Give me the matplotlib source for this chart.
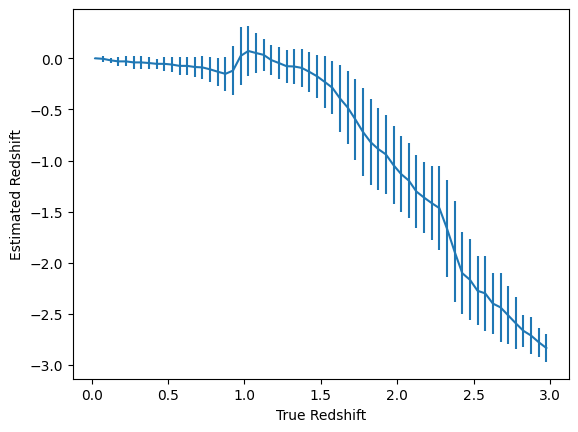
#!/usr/bin/python3
# -*- coding: utf-8 -*-

import matplotlib
matplotlib.use('Agg')
import matplotlib.pyplot as plt

# bin centres of true redshift
z_true = [0.025, 0.075, 0.125, 0.175, 0.225, 0.275, 0.325, 0.375, 0.425, 0.475,
          0.525, 0.575, 0.625, 0.675, 0.725, 0.775, 0.825, 0.875, 0.925, 0.975,
          1.025, 1.075, 1.125, 1.175, 1.225, 1.275, 1.325, 1.375, 1.425, 1.475,
          1.525, 1.575, 1.625, 1.675, 1.725, 1.775, 1.825, 1.875, 1.925, 1.975,
          2.025, 2.075, 2.125, 2.175, 2.225, 2.275, 2.325, 2.375, 2.425, 2.475,
          2.525, 2.575, 2.625, 2.675, 2.725, 2.775, 2.825, 2.875, 2.925, 2.975]

# mean estimate in each bin
z_est = [0.0, -0.005, -0.02, -0.03, -0.03, -0.04, -0.04, -0.046, -0.054, -0.054,
         -0.061, -0.074, -0.074, -0.085, -0.089, -0.108, -0.131, -0.152, -0.12, 0.023,
         0.072, 0.052, 0.034, -0.017, -0.046, -0.077, -0.08, -0.094, -0.133, -0.176,
         -0.231, -0.288, -0.393, -0.481, -0.597, -0.72, -0.82, -0.888, -0.94, -1.045,
         -1.133, -1.196, -1.304, -1.363, -1.417, -1.466, -1.667, -1.893, -2.103, -2.167,
         -2.275, -2.3, -2.40, -2.437, -2.515, -2.593, -2.667, -2.713, -2.778, -2.835]

# spread in each bin
z_err = [0.005, 0.03, 0.023, 0.042, 0.05, 0.062, 0.062, 0.055, 0.047, 0.067,
         0.074, 0.087, 0.087, 0.098, 0.114, 0.12, 0.137, 0.165, 0.24, 0.284,
         0.245, 0.196, 0.155, 0.147, 0.157, 0.162, 0.173, 0.185, 0.195, 0.21,
         0.254, 0.26, 0.327, 0.356, 0.394, 0.43, 0.42, 0.40, 0.386, 0.381,
         0.371, 0.366, 0.356, 0.346, 0.361, 0.41, 0.474, 0.494, 0.40, 0.395,
         0.337, 0.37, 0.297, 0.34, 0.283, 0.253, 0.16, 0.185, 0.142, 0.136]

fig = plt.figure(figsize=(6.4, 4.8), dpi=100)
plt.errorbar(z_true, z_est, yerr=z_err)
plt.xlabel('True Redshift')
plt.ylabel('Estimated Redshift')
plt.savefig('out.png', dpi=100, bbox_inches='tight')
